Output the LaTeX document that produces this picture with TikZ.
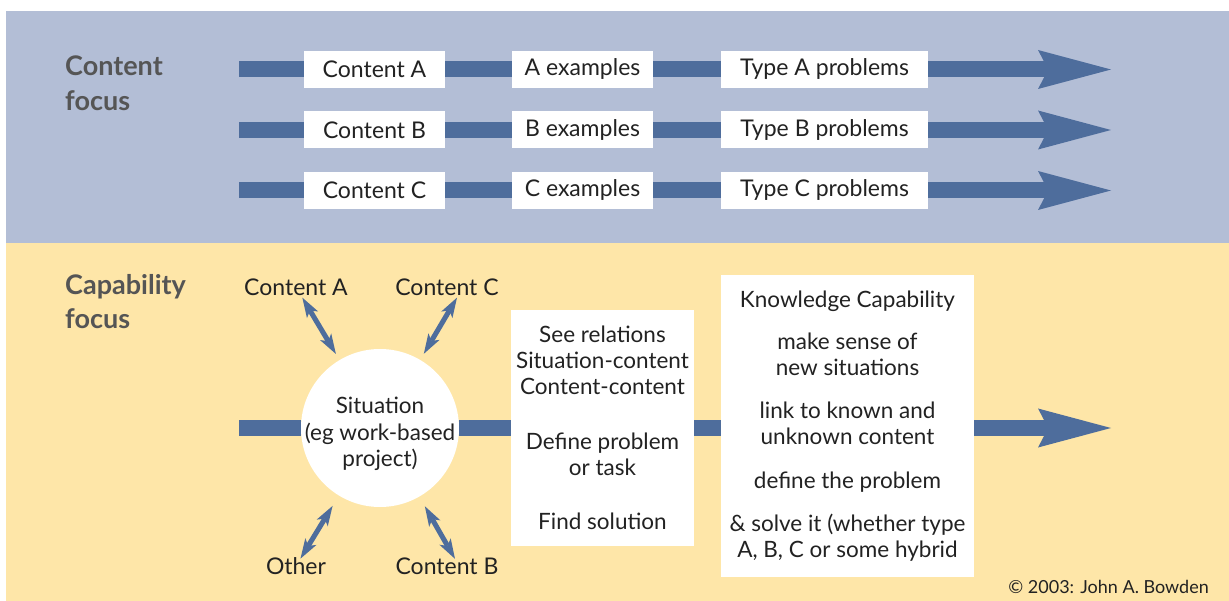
\documentclass[tikz,border=0pt]{standalone}
\usepackage{fontspec}
\setmainfont{Lato}
\usetikzlibrary{arrows.meta,calc}
\definecolor{bandblue}{HTML}{B3BED6}
\definecolor{bandyellow}{HTML}{FEE6A8}
\definecolor{flow}{HTML}{4E6D9C}
\definecolor{ink}{HTML}{222222}
\definecolor{headgray}{HTML}{555555}
\begin{document}
\begin{tikzpicture}[x=1pt,y=-1pt,
  bar/.style={draw=flow, line width=16pt},
  whitebox/.style={fill=white, minimum height=37pt, inner sep=0pt, text=ink,
    font=\fontsize{23}{26}\selectfont},
  panel/.style={fill=white, inner sep=0pt, text=ink, align=center,
    font=\fontsize{22.5}{26}\selectfont},
  heading/.style={anchor=north west, inner sep=0pt, align=left, text=headgray},
  satellite/.style={inner sep=2pt, text=ink, font=\fontsize{23}{26}\selectfont},
  dbl/.style={draw=flow, line width=5pt, {Stealth[length=20pt,width=13pt,inset=5pt,line width=0pt]}-{Stealth[length=20pt,width=13pt,inset=5pt,line width=0pt]}},
  bighead/.pic={\fill[flow] (0,0) -- (-73,-19.5) -- (-67,-8) -- (-67,8) -- (-73,19.5) -- cycle;}
]
\useasboundingbox (0,0) rectangle (1229,601);
% background bands
\fill[white] (0,0) rectangle (1229,601);
\fill[bandblue] (6,11) rectangle (1229,243);
\fill[bandyellow] (6,243) rectangle (1229,601);

% headings
\node[heading, font=\bfseries\fontsize{27}{35}\selectfont] (hcontent) at (65,56) {Content\\focus};
\node[heading, font=\bfseries\fontsize{27}{34}\selectfont] (hcap) at (65,274) {Capability\\focus};

% content-focus rows
\foreach \L/\y in {A/69.5,B/130,C/190.5}{
  \coordinate (s\L) at (239,\y);
  \coordinate (t\L) at (1111,\y);
  \node[whitebox, minimum width=141pt] (c\L) at (374.5,\y) {Content \L};
  \node[whitebox, minimum width=141pt] (e\L) at (582.5,\y) {\L{} examples};
  \node[whitebox, minimum width=207pt] (p\L) at (824.5,\y) {Type \L{} problems};
  \draw[bar] (s\L) -- (c\L.west);
  \draw[bar] (c\L.east) -- (e\L.west);
  \draw[bar] (e\L.east) -- (p\L.west);
  \draw[bar] (p\L.east) -- ($(t\L)+(-66,0)$);
  \pic at (t\L) {bighead};
}

% capability-focus flow
\coordinate (s4) at (239,428);
\coordinate (t4) at (1111,428);
\node[circle, fill=white, minimum size=158pt, inner sep=0pt] (sit) at (380,428) {};
\node[align=center, inner sep=0pt, text=ink, font=\fontsize{22.5}{26.5}\selectfont]
  (sittext) at (380,434) {Situation\\(eg work-based\\project)};
\node[panel, minimum width=183pt, minimum height=236pt] (steps) at (602.5,428)
  {See relations\\Situation-content\\Content-content\\[29pt]Define problem\\or task\\[28pt]Find solution};
\node[panel, minimum width=253pt, minimum height=302pt] (know) at (847.5,426)
  {Knowledge Capability\\[16pt]make sense of\\new situations\\[17pt]link to known and\\unknown content\\[18pt]define the problem\\[17pt]\& solve it (whether type\\A, B, C or some hybrid};
\draw[bar] (s4) -- (sit.west);
\draw[bar] (sit.east) -- (steps.west);
\draw[bar] (steps.east) -- (steps.east -| know.west);
\draw[bar] (t4 -| know.east) -- ($(t4)+(-66,0)$);
\pic at (t4) {bighead};

% contents around the situation
\node[satellite] (sa) at (296,287) {Content A};
\node[satellite] (sc) at (447,287) {Content C};
\node[satellite] (so) at (296,566) {Other};
\node[satellite] (sb) at (447,566) {Content B};
\draw[dbl, shorten <=0pt, shorten >=7pt] (sa) -- (sit);
\draw[dbl, shorten <=0pt, shorten >=7pt] ([xshift=10pt]sc.south) -- (sit);
\draw[dbl, shorten <=-4pt, shorten >=12pt] (so) -- (sit);
\draw[dbl, shorten <=-4pt, shorten >=11pt] ([xshift=6pt]sb.north) -- (sit);

% credit line
\node[anchor=base east, inner sep=0pt, text=ink, font=\fontsize{18}{20}\selectfont] (credit) at (1209,593) {© 2003: John A. Bowden};
\end{tikzpicture}
\end{document}
